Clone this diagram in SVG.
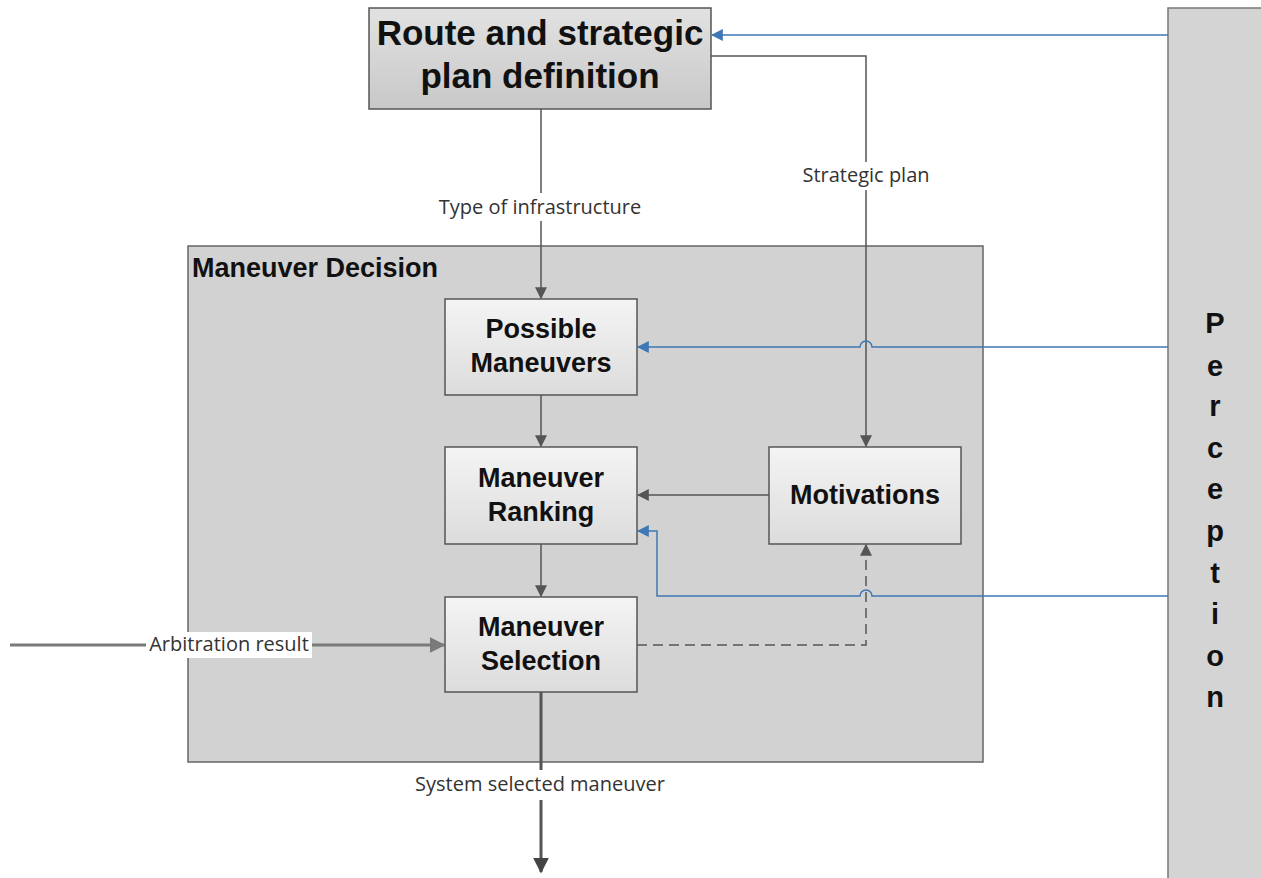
<svg xmlns="http://www.w3.org/2000/svg" width="1261" height="878" viewBox="0 0 1261 878">
<defs>
<linearGradient id="gBox" x1="0" y1="0" x2="0" y2="1"><stop offset="0" stop-color="#f4f4f4"/><stop offset="1" stop-color="#dcdcdc"/></linearGradient>
<linearGradient id="gTop" x1="0" y1="0" x2="0" y2="1"><stop offset="0" stop-color="#e2e2e2"/><stop offset="1" stop-color="#c8c8c8"/></linearGradient>
<marker id="aGs" viewBox="0 0 10 10" refX="9" refY="5" markerWidth="12" markerHeight="12" orient="auto" markerUnits="userSpaceOnUse"><path d="M0,0 L10,5 L0,10 z" fill="#555"/></marker>
<marker id="aGb" viewBox="0 0 10 10" refX="9" refY="5" markerWidth="16" markerHeight="16" orient="auto" markerUnits="userSpaceOnUse"><path d="M0,0 L10,5 L0,10 z" fill="#7a7a7a"/></marker>
<marker id="aGd" viewBox="0 0 10 10" refX="9" refY="5" markerWidth="16" markerHeight="16" orient="auto" markerUnits="userSpaceOnUse"><path d="M0,0 L10,5 L0,10 z" fill="#444"/></marker>
<marker id="aB" viewBox="0 0 10 10" refX="9" refY="5" markerWidth="12" markerHeight="12" orient="auto" markerUnits="userSpaceOnUse"><path d="M0,0 L10,5 L0,10 z" fill="#3d78b4"/></marker>
</defs>
<style>
.box{fill:url(#gBox);stroke:#555;stroke-width:1.5}
.lbl{font-family:"Liberation Sans",Arial,sans-serif;font-weight:bold;fill:#111;text-anchor:middle}
.small{font-family:"Open Sans","DejaVu Sans",sans-serif;font-size:20px;fill:#333;text-anchor:middle}
.g{fill:none;stroke:#555;stroke-width:1.5}
.b{fill:none;stroke:#3d78b4;stroke-width:1.5}
</style>
<rect width="1261" height="878" fill="#fff"/>
<g id="perception">
<rect x="1168" y="8" width="95" height="872" fill="#d4d4d4" stroke="#777" stroke-width="1.5"/>
<g class="lbl" font-size="29">
<text x="1215" y="333">P</text><text x="1215" y="376">e</text><text x="1215" y="416">r</text><text x="1215" y="458">c</text><text x="1215" y="499">e</text><text x="1215" y="541">p</text><text x="1215" y="583">t</text><text x="1215" y="624">i</text><text x="1215" y="666">o</text><text x="1215" y="707">n</text>
</g>
</g>
<g id="route">
<rect x="369" y="8" width="342" height="101" fill="url(#gTop)" stroke="#555" stroke-width="1.5"/>
<text class="lbl" x="540" y="45" font-size="35">Route and strategic</text>
<text class="lbl" x="540" y="88" font-size="35">plan definition</text>
</g>
<g id="maneuver-decision">
<rect x="188" y="246" width="795" height="516" fill="#d2d2d2" stroke="#666" stroke-width="1.5"/>
<text class="lbl" x="192" y="277" font-size="27" style="text-anchor:start">Maneuver Decision</text>
</g>
<g id="connectors">
<path class="g" d="M541,109 V298" marker-end="url(#aGs)"/>
<rect x="432" y="193" width="218" height="28" fill="#fff"/>
<text class="small" x="540" y="214">Type of infrastructure</text>
<path class="g" d="M711,56 H866 V446" marker-end="url(#aGs)"/>
<rect x="796" y="162" width="140" height="28" fill="#fff"/>
<text class="small" x="866" y="182">Strategic plan</text>
<path class="b" d="M1168,35 H712" marker-end="url(#aB)"/>
<path class="b" d="M1168,347 H872 A6,6 0 0 0 860,347 H638" marker-end="url(#aB)"/>
<path class="b" d="M1168,596 H872 A6,6 0 0 0 860,596 H657 V531 H638" marker-end="url(#aB)"/>
<path class="g" d="M541,395 V446" marker-end="url(#aGs)"/>
<path class="g" d="M541,544 V596" marker-end="url(#aGs)"/>
<path class="g" d="M769,495 H638" marker-end="url(#aGs)"/>
<path class="g" d="M637,645 H866 V545" stroke-dasharray="10,6" marker-end="url(#aGs)"/>
<path d="M10,645 H444" fill="none" stroke="#7a7a7a" stroke-width="3" marker-end="url(#aGb)"/>
<rect x="146" y="632" width="166" height="26" fill="#fff"/>
<text class="small" x="229" y="651">Arbitration result</text>
<path d="M541,692 V872" fill="none" stroke="#555" stroke-width="3" marker-end="url(#aGd)"/>
<rect x="408" y="770" width="265" height="30" fill="#fff"/>
<text class="small" x="540" y="791">System selected maneuver</text>
</g>
<g id="possible">
<rect class="box" x="445" y="299" width="192" height="96"/>
<text class="lbl" x="541" y="338" font-size="27">Possible</text>
<text class="lbl" x="541" y="372" font-size="27">Maneuvers</text>
</g>
<g id="ranking">
<rect class="box" x="445" y="447" width="192" height="97"/>
<text class="lbl" x="541" y="487" font-size="27">Maneuver</text>
<text class="lbl" x="541" y="521" font-size="27">Ranking</text>
</g>
<g id="selection">
<rect class="box" x="445" y="597" width="192" height="95"/>
<text class="lbl" x="541" y="636" font-size="27">Maneuver</text>
<text class="lbl" x="541" y="670" font-size="27">Selection</text>
</g>
<g id="motivations">
<rect class="box" x="769" y="447" width="192" height="97"/>
<text class="lbl" x="865" y="504" font-size="27">Motivations</text>
</g>
</svg>
